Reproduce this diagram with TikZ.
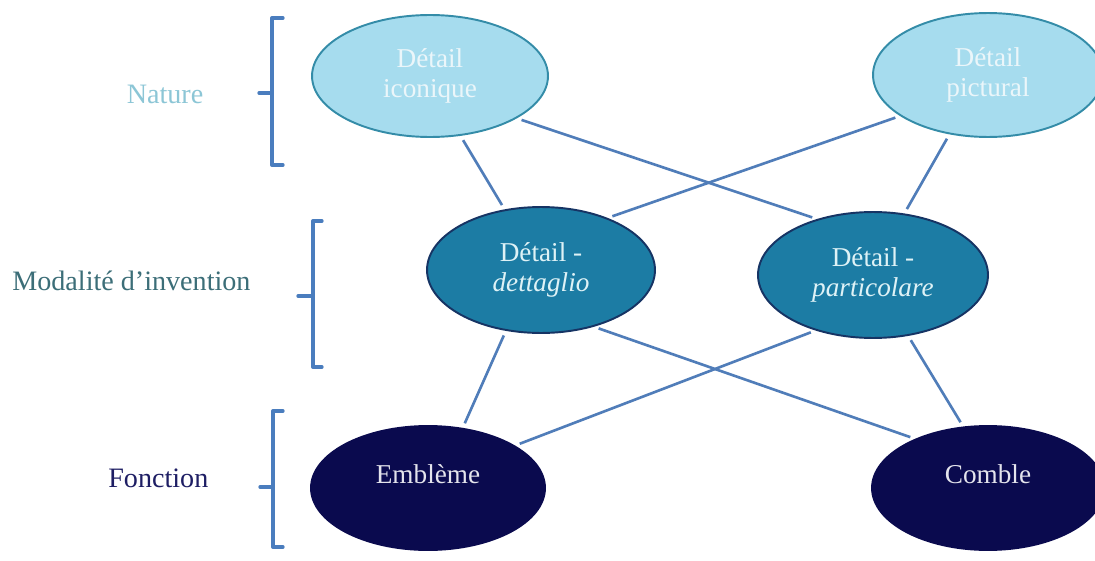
\documentclass[tikz,border=0pt]{standalone}
\usepackage{fontspec}
\setmainfont{Liberation Serif}
\usetikzlibrary{shapes.geometric}
\definecolor{lightfill}{RGB}{166,220,238}
\definecolor{lightedge}{RGB}{52,140,168}
\definecolor{lighttext}{RGB}{235,246,250}
\definecolor{midfill}{RGB}{28,124,164}
\definecolor{midedge}{RGB}{22,52,100}
\definecolor{midtext}{RGB}{222,242,246}
\definecolor{darkfill}{RGB}{10,10,78}
\definecolor{darktext}{RGB}{228,228,236}
\definecolor{connblue}{RGB}{80,125,185}
\definecolor{bracketblue}{RGB}{74,125,190}
\definecolor{naturec}{RGB}{140,198,214}
\definecolor{modalc}{RGB}{60,110,120}
\definecolor{fonctc}{RGB}{30,30,100}
\tikzset{
  oval/.style={ellipse, inner sep=0pt, line width=1.1pt, align=center,
    font=\fontsize{15.5pt}{17.5pt}\selectfont},
  lightoval/.style={oval, draw=lightedge, fill=lightfill, text=lighttext},
  midoval/.style={oval, draw=midedge, fill=midfill, text=midtext},
  darkoval/.style={oval, draw=darkfill, fill=darkfill, text=darktext,
    text height=0.37cm, text depth=0.57cm},
  conn/.style={draw=connblue, line width=1.5pt, shorten <=0.1cm, shorten >=0.1cm},
  brack/.style={draw=bracketblue, line width=1.9pt, line cap=round, line join=round},
  rowlabel/.style={inner sep=0pt, font=\fontsize{16pt}{18pt}\selectfont}
}
\begin{document}
\begin{tikzpicture}[x=0.02cm, y=-0.02cm]
\useasboundingbox (0,0) rectangle (1095,561);
\fill[white] (0,0) rectangle (1095,561);

% row labels
\node[rowlabel, text=naturec, anchor=base] (lnat) at (165,103) {Nature};
\node[rowlabel, text=modalc, anchor=base west] (lmod) at (12,290) {Modalité d’invention};
\node[rowlabel, text=fonctc, anchor=base west] (lfon) at (108,487) {Fonction};

% brackets
\draw[brack] (283,18) -- (272,18) -- (272,165) -- (283,165);
\draw[brack] (272,93) -- (259,93);
\draw[brack] (322,221) -- (313,221) -- (313,367) -- (322,367);
\draw[brack] (313,296) -- (298,296);
\draw[brack] (283,411) -- (273,411) -- (273,547) -- (283,547);
\draw[brack] (273,487) -- (260,487);

% ovals
\node[lightoval, minimum width=4.72cm, minimum height=2.44cm] (ic) at (430,76) {Détail\\iconique};
\node[lightoval, minimum width=4.6cm, minimum height=2.48cm] (pi) at (988,75) {Détail\\pictural};
\node[midoval, minimum width=4.56cm, minimum height=2.52cm] (de) at (541,270) {Détail -\\\textit{dettaglio}};
\node[midoval, minimum width=4.6cm, minimum height=2.52cm] (pa) at (873,275) {Détail -\\\textit{particolare}};
\node[darkoval, minimum width=4.68cm, minimum height=2.48cm] (em) at (428,488) {Emblème};
\node[darkoval, minimum width=4.64cm, minimum height=2.48cm] (co) at (988,488) {Comble};

% connectors
\draw[conn] (ic.-63.4) -- (de.121);
\draw[conn] (ic.-26.05) -- (pa.135.9);
\draw[conn] (pi.-155.6) -- (de.38.1);
\draw[conn] (pi.-123) -- (pa.63.4);
\draw[conn] (de.-120.2) -- (em.60.9);
\draw[conn] (de.-47.8) -- (co.146.8);
\draw[conn] (pa.-136.4) -- (em.26.1);
\draw[conn] (pa.-60.35) -- (co.112.4);
\end{tikzpicture}
\end{document}
